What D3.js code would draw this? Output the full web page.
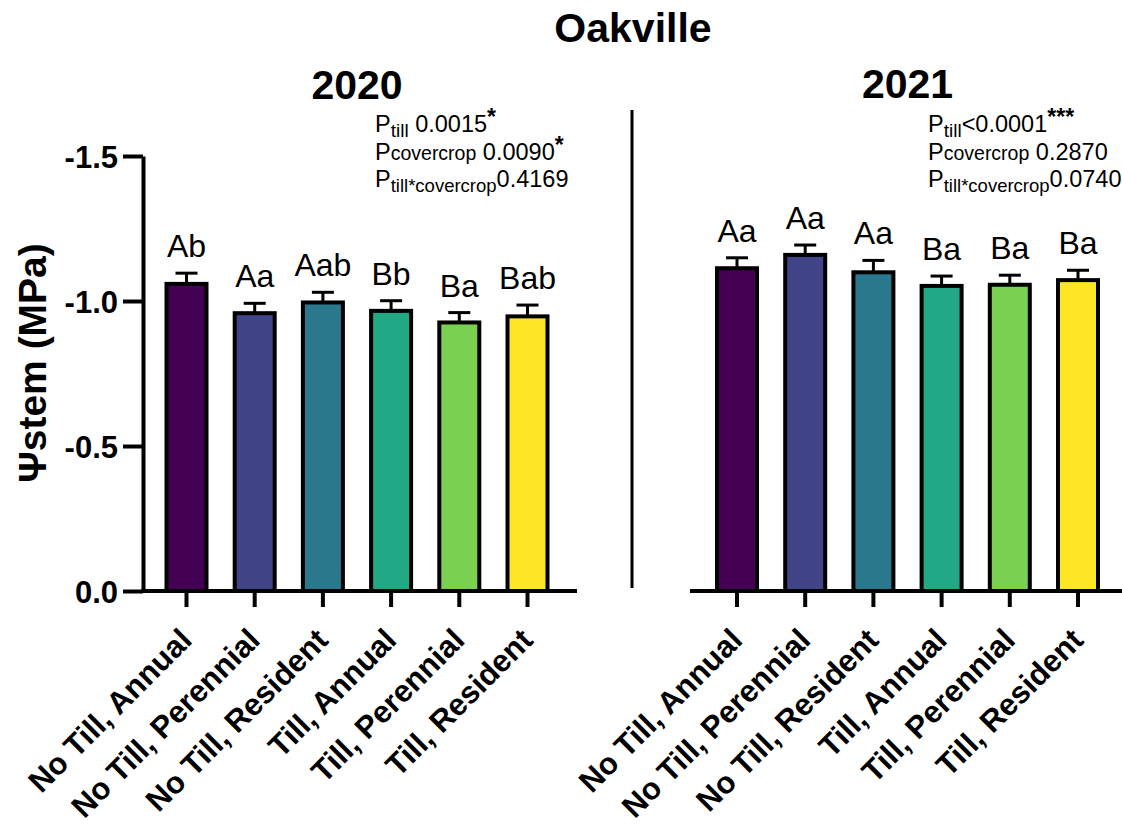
<!DOCTYPE html>
<html><head><meta charset="utf-8">
<script src="https://cdn.jsdelivr.net/npm/d3@7"></script>
<style>body{margin:0;background:#fff} svg{display:block}</style>
</head><body><svg id="c" width="1122" height="831"></svg>
<script>
const categories = ["No Till, Annual", "No Till, Perennial", "No Till, Resident", "Till, Annual", "Till, Perennial", "Till, Resident"];
const colors = ["#440154", "#414487", "#2a788e", "#22a884", "#7ad151", "#fde725"];
const mean2020 = [-1.059, -0.958, -0.995, -0.966, -0.926, -0.947];
const err2020 = [0.037, 0.034, 0.035, 0.035, 0.034, 0.039];
const letters2020 = ["Ab", "Aa", "Aab", "Bb", "Ba", "Bab"];
const mean2021 = [-1.113, -1.159, -1.099, -1.052, -1.056, -1.072];
const err2021 = [0.036, 0.034, 0.041, 0.034, 0.033, 0.034];
const letters2021 = ["Aa", "Aa", "Aa", "Ba", "Ba", "Ba"];
const yTicks = [0, -0.5, -1.0, -1.5];
const stats2020 = {till: "0.0015", tillStar: "*", cover: "0.0090", coverStar: "*", inter: "0.4169", tillSep: " "};
const stats2021 = {till: "0.0001", tillStar: "***", cover: "0.2870", coverStar: "", inter: "0.0740", tillSep: "<"};

const FONT = "'Liberation Sans', Arial, Helvetica, sans-serif";
const svg = d3.select("#c").style("font-family", FONT);
const y = d3.scaleLinear().domain([0, -1.5]).range([591, 156]);
const fmt = d => d === 0 ? "0.0" : "-" + Math.abs(d).toFixed(1);

function panel(o) {
  const x = d3.scaleBand().domain(categories).range(o.range)
    .paddingInner(0.4135).paddingOuter(0.4135 / 2);
  const g = svg.append("g");
  const data = categories.map((c, i) => ({c, m: o.mean[i], e: o.err[i], l: o.letters[i], col: colors[i]}));

  // bars
  g.selectAll("rect.bar").data(data).join("rect")
    .attr("x", d => x(d.c)).attr("width", x.bandwidth())
    .attr("y", d => y(d.m)).attr("height", d => y(0) - y(d.m))
    .attr("fill", d => d.col).attr("stroke", "#000").attr("stroke-width", 4);

  // error bars
  const cx = d => x(d.c) + x.bandwidth() / 2;
  g.selectAll("line.err").data(data).join("line")
    .attr("x1", cx).attr("x2", cx)
    .attr("y1", d => y(d.m)).attr("y2", d => y(d.m - d.e))
    .attr("stroke", "#000").attr("stroke-width", 3);
  g.selectAll("line.cap").data(data).join("line")
    .attr("x1", d => cx(d) - 11).attr("x2", d => cx(d) + 11)
    .attr("y1", d => y(d.m - d.e)).attr("y2", d => y(d.m - d.e))
    .attr("stroke", "#000").attr("stroke-width", 3);

  // letters
  g.selectAll("text.let").data(data).join("text")
    .attr("x", cx).attr("y", d => y(d.m - d.e) - 16)
    .attr("text-anchor", "middle").attr("font-size", 32).text(d => d.l);

  // x axis
  const ax = g.append("g").attr("transform", `translate(0,${y(0)})`)
    .call(d3.axisBottom(x).tickSize(16).tickSizeOuter(0));
  ax.select(".domain").remove();
  ax.selectAll(".tick line").attr("stroke", "#000").attr("stroke-width", 4);
  ax.selectAll(".tick text")
    .attr("x", 0).attr("y", 0).attr("dy", 0)
    .attr("text-anchor", "end")
    .attr("transform", "translate(7,51) rotate(-45)")
    .attr("font-size", 31).attr("font-weight", "bold")
    .attr("font-family", FONT).attr("fill", "#000");
  g.append("line").attr("x1", o.axisX[0]).attr("x2", o.axisX[1])
    .attr("y1", y(0)).attr("y2", y(0)).attr("stroke", "#000").attr("stroke-width", 4);

  // year title
  g.append("text").attr("x", (x(categories[0]) + x(categories[5]) + x.bandwidth()) / 2)
    .attr("y", o.titleY).attr("text-anchor", "middle")
    .attr("font-size", 41).attr("font-weight", "bold").text(o.year);

  // stats
  const s = o.stats, sx = o.statsX;
  const t1 = g.append("text").attr("x", sx).attr("y", 132).attr("font-size", 23.5);
  t1.append("tspan").text("P");
  t1.append("tspan").attr("font-size", 19).attr("dy", 5).text("till");
  t1.append("tspan").attr("dy", -5).text(s.tillSep + s.till);
  t1.append("tspan").attr("font-weight", "bold").attr("font-size", 23).attr("dy", -7).text(s.tillStar);
  const t2 = g.append("text").attr("x", sx).attr("y", 160).attr("font-size", 23.5);
  t2.append("tspan").text("P");
  t2.append("tspan").attr("font-size", 19.5).text("covercrop");
  t2.append("tspan").text(" " + s.cover);
  if (s.coverStar) t2.append("tspan").attr("font-weight", "bold").attr("font-size", 23).attr("dy", -7).text(s.coverStar);
  const t3 = g.append("text").attr("x", sx).attr("y", 187).attr("font-size", 23.5);
  t3.append("tspan").text("P");
  t3.append("tspan").attr("font-size", 18.5).attr("dy", 5).text("till*covercrop");
  t3.append("tspan").attr("dy", -5).text(s.inter);
  return g;
}

panel({range: [152.4, 561.6], axisX: [141, 577], mean: mean2020, err: err2020, letters: letters2020,
  year: "2020", titleY: 99, stats: stats2020, statsX: 375});
panel({range: [702.9, 1112.1], axisX: [690, 1122], mean: mean2021, err: err2021, letters: letters2021,
  year: "2021", titleY: 98, stats: stats2021, statsX: 928});

// left y axis
const ay = svg.append("g").attr("transform", "translate(143,0)")
  .call(d3.axisLeft(y).tickValues(yTicks).tickSize(20).tickSizeOuter(0).tickPadding(5).tickFormat(fmt));
ay.select(".domain").attr("stroke", "#000").attr("stroke-width", 4);
ay.selectAll(".tick line").attr("stroke", "#000").attr("stroke-width", 4);
ay.selectAll(".tick text").attr("font-size", 31).attr("font-weight", "bold")
  .attr("font-family", FONT).attr("fill", "#000").attr("dy", "0.36em");

// y title
svg.append("text").attr("transform", "translate(46,363) rotate(-90)")
  .attr("text-anchor", "middle").attr("font-size", 39).attr("font-weight", "bold")
  .text("Ψstem (MPa)");

// separator
svg.append("line").attr("x1", 632).attr("x2", 632).attr("y1", 110).attr("y2", 588)
  .attr("stroke", "#000").attr("stroke-width", 3);

// main title
svg.append("text").attr("x", 633).attr("y", 42).attr("text-anchor", "middle")
  .attr("font-size", 41).attr("font-weight", "bold").text("Oakville");
</script></body></html>
